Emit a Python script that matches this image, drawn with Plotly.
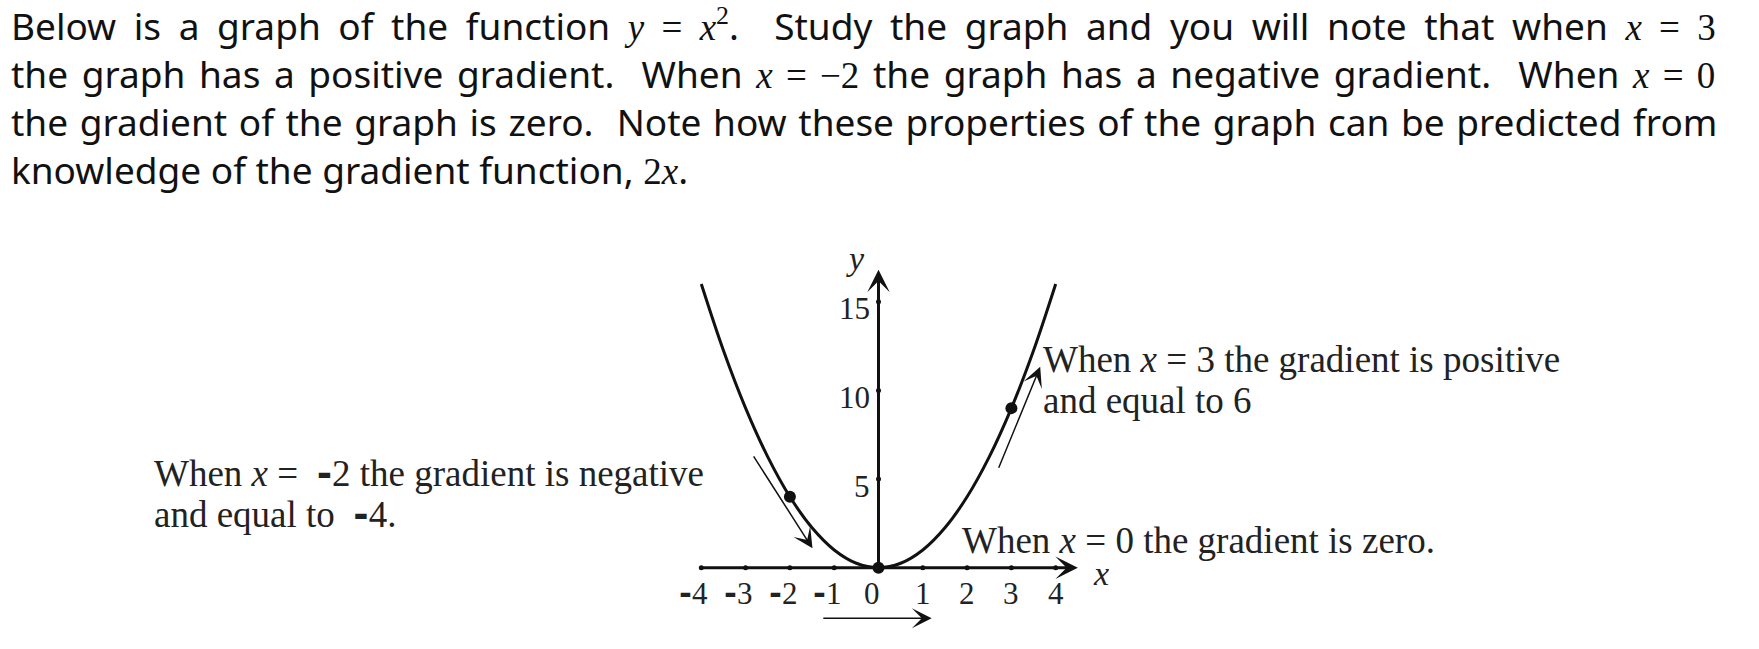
import plotly.graph_objects as go

# ---- data ----
curve_x = [-4, -3.5, -3, -2.5, -2, -1.5, -1, -0.5, 0, 0.5, 1, 1.5, 2, 2.5, 3, 3.5, 4]
curve_y = [16, 12.25, 9, 6.25, 4, 2.25, 1, 0.25, 0, 0.25, 1, 2.25, 4, 6.25, 9, 12.25, 16]

point_x = [-2, 0, 3]
point_y = [4, 0, 9]

x_ticks = [-4, -3, -2, -1, 0, 1, 2, 3, 4]
x_tick_labels = ["-4", "-3", "-2", "-1", "0", "1", "2", "3", "4"]
y_ticks = [5, 10, 15]
y_tick_labels = ["5", "10", "15"]

x_axis_start = -4
x_axis_end = 4.5
y_axis_end = 16.8

# gradient arrows (tail -> head)
arrow_tail_x = [-2.84, 2.70, -1.28]
arrow_tail_y = [6.36, 5.55, -2.85]
arrow_head_x = [-1.49, 3.65, 1.20]
arrow_head_y = [1.09, 11.33, -2.85]

W, H = 1759, 649
SANS = "Noto Sans"
SERIF = "Liberation Serif"
DASH = "<span style=\"font-family:'DejaVu Sans';font-weight:bold\">-</span>"


def px(x):
    return x / W


def py(y):
    return 1 - y / H


fig = go.Figure()

# curve
fig.add_trace(go.Scatter(x=curve_x, y=curve_y, mode="lines",
                         line=dict(color="#111", width=3, shape="spline"),
                         hoverinfo="skip"))
# tick dots
fig.add_trace(go.Scatter(x=x_ticks, y=[0] * len(x_ticks), mode="markers",
                         marker=dict(color="#111", size=5), hoverinfo="skip"))
fig.add_trace(go.Scatter(x=[0] * len(y_ticks), y=y_ticks, mode="markers",
                         marker=dict(color="#111", size=5), hoverinfo="skip"))
# highlighted points
fig.add_trace(go.Scatter(x=point_x, y=point_y, mode="markers",
                         marker=dict(color="#111", size=12), hoverinfo="skip"))

# axes with arrow heads
fig.add_annotation(x=x_axis_end, y=0, ax=x_axis_start, ay=0, xref="x", yref="y",
                   axref="x", ayref="y", text="", showarrow=True, arrowhead=3,
                   arrowwidth=3, arrowsize=1.25, arrowcolor="#111", standoff=0)
fig.add_annotation(x=0, y=y_axis_end, ax=0, ay=0, xref="x", yref="y",
                   axref="x", ayref="y", text="", showarrow=True, arrowhead=3,
                   arrowwidth=3, arrowsize=1.25, arrowcolor="#111", standoff=0)

# gradient arrows
for tx, ty, hx, hy in zip(arrow_tail_x, arrow_tail_y, arrow_head_x, arrow_head_y):
    fig.add_annotation(x=hx, y=hy, ax=tx, ay=ty, xref="x", yref="y",
                       axref="x", ayref="y", text="", showarrow=True, arrowhead=3,
                       arrowwidth=1.5, arrowsize=2.2, arrowcolor="#111", standoff=0)

# tick labels
TICKF = dict(family=SERIF, size=31, color="#222")
for t, lab in zip(x_ticks, x_tick_labels):
    if t < 0:
        fig.add_annotation(x=t + 0.2, y=-1.45, text=DASH + lab[1:], showarrow=False,
                           xanchor="right", yanchor="middle", font=TICKF)
    elif t == 0:
        fig.add_annotation(x=-0.15, y=-1.45, text=lab, showarrow=False,
                           xanchor="center", yanchor="middle", font=TICKF)
    else:
        fig.add_annotation(x=t, y=-1.45, text=lab, showarrow=False,
                           xanchor="center", yanchor="middle", font=TICKF)
for t, lab in zip(y_ticks, y_tick_labels):
    fig.add_annotation(x=-0.15, y=t - 0.4, text=lab, showarrow=False,
                       xanchor="right", yanchor="middle", font=TICKF)

fig.add_annotation(x=-0.53, y=17.45, text="<i>y</i>", showarrow=False,
                   xanchor="center", yanchor="middle", font=dict(family=SERIF, size=34, color="#222"))
fig.add_annotation(x=5.02, y=-0.35, text="<i>x</i>", showarrow=False,
                   xanchor="center", yanchor="middle", font=dict(family=SERIF, size=34, color="#222"))

# explanatory labels (serif)
LABF = dict(family=SERIF, size=37, color="#222")


def serif_line(x, baseline, text):
    fig.add_annotation(xref="paper", yref="paper", x=px(x), y=py(baseline - 0.34 * LABF["size"]),
                       text=text, showarrow=False, xanchor="left", yanchor="middle",
                       font=LABF)


serif_line(1041, 372, "When <i>x</i> = 3 the gradient is positive")
serif_line(1041, 413, "and equal to 6")
serif_line(152, 486, "When <i>x</i> =  " + DASH + "2 the gradient is negative")
serif_line(152, 527, "and equal to  " + DASH + "4.")
serif_line(960, 553, "When <i>x</i> = 0 the gradient is zero.")

# paragraph (sans) - justified through word spacing
PF = dict(family=SANS, size=37, color="#111")


def s(t, ws):
    return f"<span style=\"word-spacing:{ws}px\">{t}</span>"


def m(t, ws):
    return f"<span style=\"font-family:'{SERIF}';font-style:italic;word-spacing:{ws}px\">{t}</span>"


def r(t, ws):
    return f"<span style=\"font-family:'{SERIF}';word-spacing:{ws}px\">{t}</span>"


ws_lines = [8.0, 4.0, 2, 0]
w1, w2, w3, w4 = ws_lines
para = [
    s("Below is a graph of the function ", w1) + m("y", w1) + r(" = ", w1) + m("x", w1)
    + r("<sup>2</sup>", w1) + s(".  Study the graph and you will note that when ", w1)
    + m("x", w1) + r(" = 3", w1),
    s("the graph has a positive gradient.  When ", w2) + m("x", w2) + r(" = \u22122", w2)
    + s(" the graph has a negative gradient.  When ", w2) + m("x", w2) + r(" = 0", w2),
    s("the gradient of the graph is zero.  Note how these properties of the graph can be predicted from", w3),
    s("knowledge of the gradient function, ", w4) + r("2", w4) + m("x", w4) + s(".", w4),
]
baselines = [39.3, 87.3, 135.3, 183.3]
for txt, b in zip(para, baselines):
    fig.add_annotation(xref="paper", yref="paper", x=px(9), y=py(b - 0.38 * PF["size"]),
                       text=txt, showarrow=False, xanchor="left", yanchor="middle", font=PF)

fig.update_layout(
    width=W, height=H,
    margin=dict(l=0, r=0, t=0, b=0),
    paper_bgcolor="white", plot_bgcolor="white",
    showlegend=False,
    xaxis=dict(range=[-878.5 / 44.3, (W - 878.5) / 44.3], visible=False, fixedrange=True),
    yaxis=dict(range=[(567.7 - H) / 17.73, 567.7 / 17.73], visible=False, fixedrange=True),
)

fig.write_html("out.html", config={"displayModeBar": False},
               post_script="document.body.style.margin='0';document.body.style.overflow='hidden';")
